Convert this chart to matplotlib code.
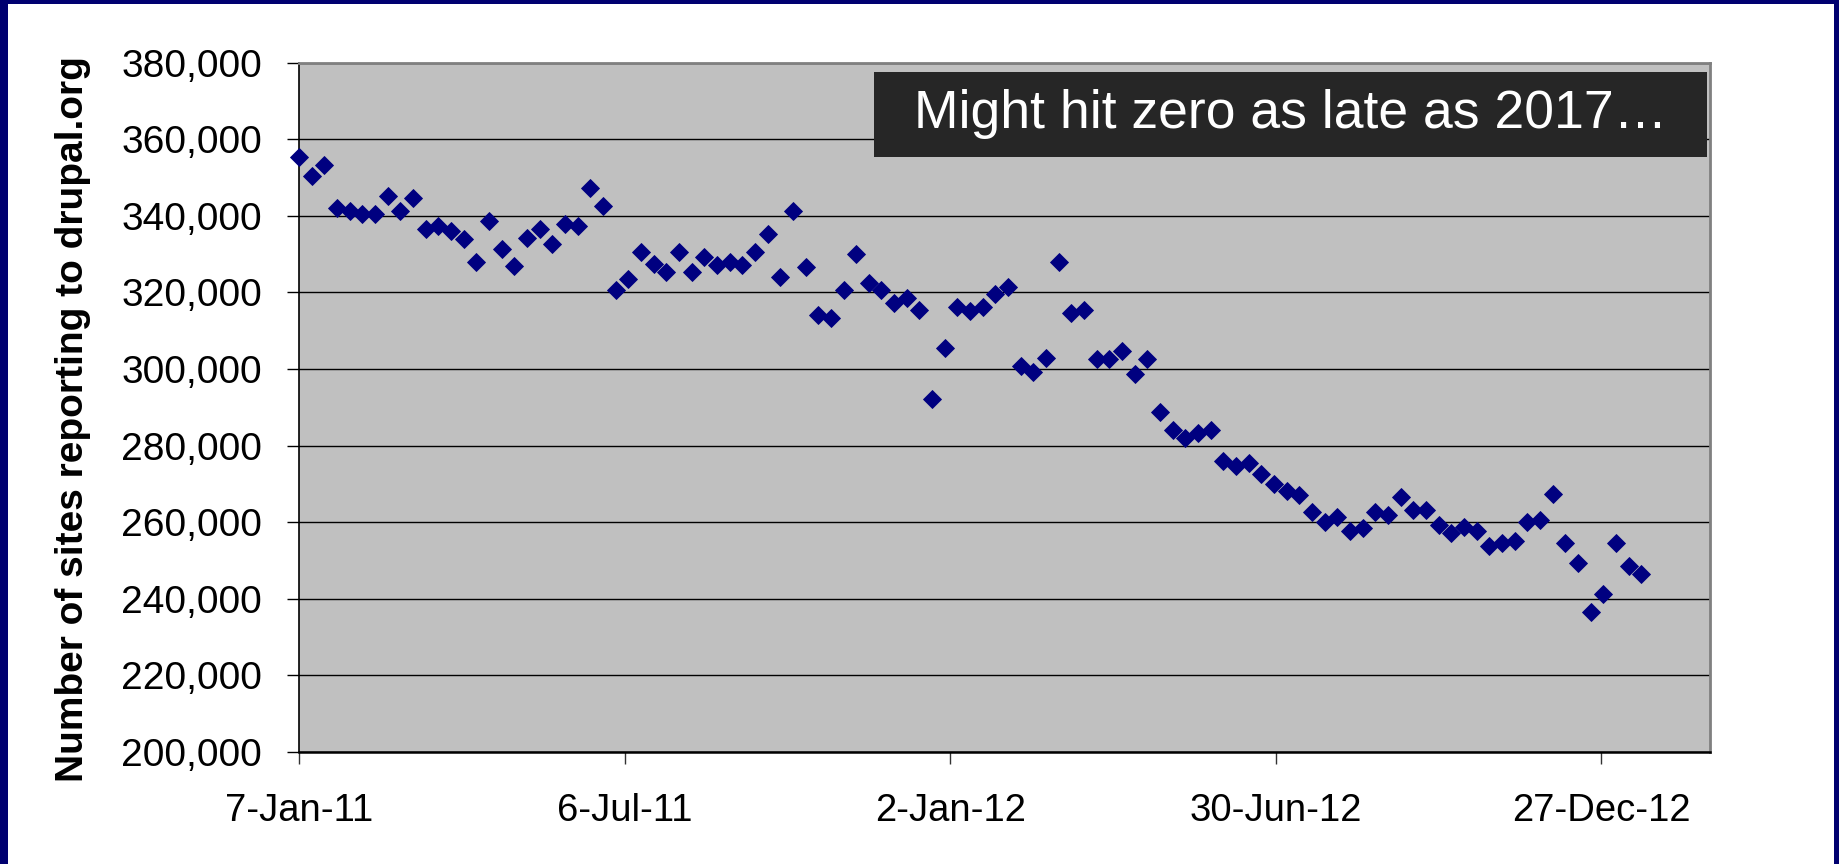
import matplotlib
matplotlib.use("Agg")
import matplotlib.pyplot as plt
from matplotlib.patches import Rectangle
import pandas as pd

# ---- data ----
start_date = "2011-01-07"
sites = [
    355300, 350500, 353300, 342000, 341300, 340600, 340600, 345300, 341300, 344600,
    336700, 337400, 336000, 334000, 328000, 338700, 331400, 326800, 334100, 336700,
    332600, 338000, 337400, 347400, 342700, 320600, 323400, 330600, 327500, 325400,
    330600, 325300, 329300, 327300, 328000, 327300, 330600, 335300, 324000, 341200,
    326700, 314000, 313400, 320700, 330000, 322600, 320600, 317300, 318600, 315300,
    292100, 305400, 316100, 315200, 316100, 319500, 321300, 300800, 299300, 302800,
    328000, 314700, 315400, 302700, 302700, 304700, 298700, 302700, 288800, 284100,
    282100, 283400, 284100, 276000, 274600, 275500, 272700, 269900, 268100, 267200,
    262700, 260000, 261300, 257800, 258500, 262600, 262000, 266700, 263300, 263300,
    259300, 257200, 258700, 257800, 253900, 254600, 255200, 260000, 260600, 267400,
    254600, 249300, 236600, 241200, 254600, 248700, 246500,
]
tick_dates = ["2011-01-07", "2011-07-06", "2012-01-02", "2012-06-30", "2012-12-27"]
tick_labels = ["7-Jan-11", "6-Jul-11", "2-Jan-12", "30-Jun-12", "27-Dec-12"]
x_end = "2013-02-25"
y_ticks = [200000, 220000, 240000, 260000, 280000, 300000, 320000, 340000, 360000, 380000]
y_label = "Number of sites reporting to drupal.org"
note = "Might hit zero as late as 2017\u2026"

dates = pd.date_range(start_date, periods=len(sites), freq="7D")

plt.rcParams["font.family"] = ["Liberation Sans", "DejaVu Sans"]

W, H = 1839, 864
fig = plt.figure(figsize=(W / 100, H / 100), dpi=100)
fig.patch.set_facecolor("white")

def px_axes(x0, y0, x1, y1):
    return [x0 / W, 1 - y1 / H, (x1 - x0) / W, (y1 - y0) / H]

ax = fig.add_axes(px_axes(299, 62.7, 1710, 752))
ax.set_facecolor("#C0C0C0")

ax.plot(dates, sites, linestyle="none", marker="D", markersize=8.8,
        markerfacecolor="#000080", markeredgecolor="#000080", markeredgewidth=0.6,
        zorder=3, clip_on=False)

ax.set_ylim(y_ticks[0], y_ticks[-1])
ax.set_yticks(y_ticks)
ax.set_yticklabels([f"{v:,}" for v in y_ticks])
ax.yaxis.grid(True, color="black", linewidth=1.0)
ax.set_axisbelow(True)

ax.set_xlim(pd.Timestamp(start_date), pd.Timestamp(x_end))
ax.set_xticks(pd.to_datetime(tick_dates))
ax.set_xticklabels(tick_labels)

ax.tick_params(axis="y", direction="out", length=8.6, width=1.0, color="black",
               labelsize=28, pad=18)
ax.tick_params(axis="x", direction="out", length=8.6, width=1.0, color="#333333",
               labelsize=27.5, pad=21)

for side in ("top", "right"):
    ax.spines[side].set_color("#808080")
    ax.spines[side].set_linewidth(2.0)
ax.spines["left"].set_color("black")
ax.spines["left"].set_linewidth(1.2)
ax.spines["bottom"].set_color("black")
ax.spines["bottom"].set_linewidth(1.8)

fig.text(73 / W, 1 - 419 / H, y_label, rotation=90, ha="center", va="center",
         fontsize=28, fontweight="bold", color="black")

# annotation box
bx0, bx1 = (874 - 299) / 1411, (1707 - 299) / 1411
by0, by1 = (752 - 156.7) / 689.3, (752 - 71.7) / 689.3
ax.add_patch(Rectangle((bx0, by0), bx1 - bx0, by1 - by0, transform=ax.transAxes,
                       facecolor="#262626", edgecolor="none", zorder=4))
ax.text((bx0 + bx1) / 2, (by0 + by1) / 2, note, transform=ax.transAxes,
        ha="center", va="center", color="white", fontsize=38.5, zorder=5)

# navy slide border
navy = "#000070"
fig.add_artist(Rectangle((0, 0), 8 / W, 1, transform=fig.transFigure,
                         facecolor=navy, edgecolor="none"))
fig.add_artist(Rectangle((0, 1 - 4 / H), 1, 4 / H, transform=fig.transFigure,
                         facecolor=navy, edgecolor="none"))
fig.add_artist(Rectangle((1 - 5 / W, 0), 5 / W, 1, transform=fig.transFigure,
                         facecolor=navy, edgecolor="none"))

fig.savefig("out.png", dpi=100, facecolor="white")
